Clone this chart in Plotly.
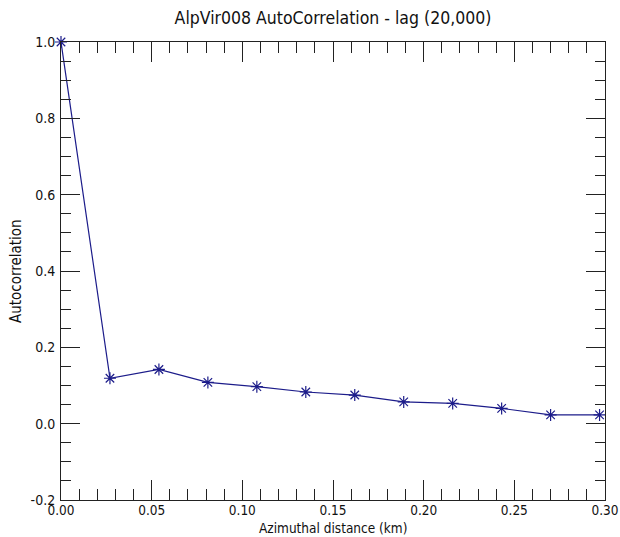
import plotly.graph_objects as go

# Azimuthal lag distances (km) and autocorrelation values
distance_km = [0.0, 0.027, 0.054, 0.081, 0.108, 0.135, 0.162, 0.189, 0.216, 0.243, 0.270, 0.297]
autocorr = [1.0, 0.119, 0.142, 0.108, 0.097, 0.083, 0.075, 0.057, 0.053, 0.040, 0.023, 0.023]

title_text = "AlpVir008 AutoCorrelation - lag (20,000)"
x_title = "Azimuthal distance (km)"
y_title = "Autocorrelation"

x_tickvals = [0, 0.05, 0.1, 0.15, 0.2, 0.25, 0.3]
x_ticktext = ["0.00", "0.05", "0.10", "0.15", "0.20", "0.25", "0.30"]
y_tickvals = [-0.2, 0.0, 0.2, 0.4, 0.6, 0.8, 1.0]
y_ticktext = ["-0.2", "0.0", "0.2", "0.4", "0.6", "0.8", "1.0"]

FONT = "DejaVu Sans Condensed, DejaVu Sans"
AXIS_COLOR = "#222222"
LINE_COLOR = "#1c1c8a"
TEXT_COLOR = "#111111"

# plot area in pixels
W, H = 620, 537
L, R, T, B = 61, 15, 42, 37
PW, PH = W - L - R, H - T - B

fig = go.Figure()
fig.add_trace(go.Scatter(
    x=distance_km,
    y=autocorr,
    mode="lines+markers",
    line=dict(color=LINE_COLOR, width=1.2),
    marker=dict(symbol="asterisk-open", size=10,
                line=dict(color=LINE_COLOR, width=1.2), color=LINE_COLOR),
    showlegend=False,
    cliponaxis=False,
))

fig.update_layout(
    width=W, height=H,
    margin=dict(l=L, r=R, t=T, b=B),
    paper_bgcolor="white",
    plot_bgcolor="white",
    font=dict(family=FONT, size=14, color=TEXT_COLOR),
    title=dict(text=title_text, x=0.5, xref="paper", xanchor="center",
               y=1 - 18 / H, yref="container", yanchor="middle",
               font=dict(family=FONT, size=17.5, color=TEXT_COLOR)),
    annotations=[
        dict(text=x_title, xref="paper", yref="paper", x=0.5, y=-28 / PH,
             xanchor="center", yanchor="middle", showarrow=False,
             font=dict(family=FONT, size=13.5, color=TEXT_COLOR)),
        dict(text=y_title, xref="paper", yref="paper", x=-(L - 16) / PW, y=0.5,
             xanchor="center", yanchor="middle", showarrow=False, textangle=-90,
             font=dict(family=FONT, size=15, color=TEXT_COLOR)),
    ],
)

fig.update_xaxes(
    range=[0, 0.3], tickmode="array",
    tickvals=x_tickvals, ticktext=x_ticktext,
    ticks="inside", ticklen=20, tickwidth=1, tickcolor=AXIS_COLOR,
    minor=dict(dtick=0.01, tick0=0, ticks="inside", ticklen=11, tickwidth=1,
               tickcolor=AXIS_COLOR, showgrid=False),
    showline=True, linecolor=AXIS_COLOR, linewidth=1, mirror="ticks",
    showgrid=False, zeroline=False, automargin=False,
    ticklabelstandoff=-2, tickfont=dict(size=13.5),
)
fig.update_yaxes(
    range=[-0.2, 1.0], tickmode="array",
    tickvals=y_tickvals, ticktext=y_ticktext,
    ticks="inside", ticklen=19, tickwidth=1, tickcolor=AXIS_COLOR,
    minor=dict(dtick=0.05, tick0=0, ticks="inside", ticklen=10, tickwidth=1,
               tickcolor=AXIS_COLOR, showgrid=False),
    showline=True, linecolor=AXIS_COLOR, linewidth=1, mirror="ticks",
    showgrid=False, zeroline=False, automargin=False,
    ticklabelstandoff=2, tickfont=dict(size=14),
)

fig.write_html("out.html")
